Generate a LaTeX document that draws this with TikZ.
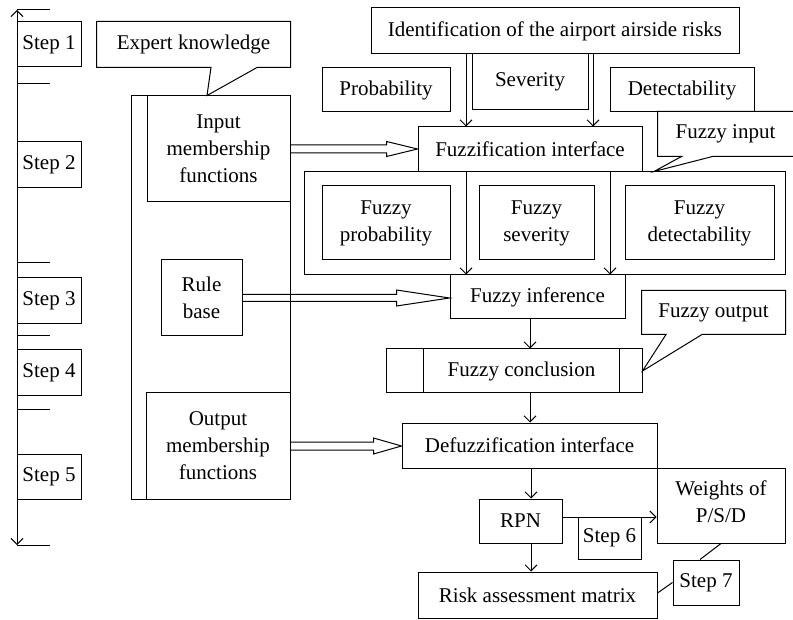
\documentclass[tikz,border=0pt]{standalone}
\usepackage{fontspec}
\setmainfont{Liberation Serif}
\usetikzlibrary{calc,arrows.meta}
\newcommand\dfont{\fontsize{21}{27}\selectfont}
\newcommand\cbox[7][]{\node[box,#1,minimum width={(#5-#3)*1pt},minimum height={(#6-#4)*1pt}] (#2) at ({(#3+#5)/2},{(#4+#6)/2}) {#7};}
\newcommand\hollow[5]{\draw let \p1=(#1), \p2=(#2) in
  (\x1,{\y1+#4pt}) -- ({\x2-#3pt},{\y1+#4pt}) -- ({\x2-#3pt},{\y1+#5pt}) -- (\x2,\y1)
  -- ({\x2-#3pt},{\y1-#5pt}) -- ({\x2-#3pt},{\y1-#4pt}) -- (\x1,{\y1-#4pt});}
\begin{document}
\begin{tikzpicture}[x=1pt,y=-1pt,line width=1pt,
  box/.style={draw,rectangle,inner sep=0pt,align=center,font=\dfont},
  arr/.style={-{Straight Barb[length=6pt,width=12pt]}},
  barr/.style={{Straight Barb[length=6pt,width=12pt]}-{Straight Barb[length=6pt,width=12pt]}}]
\useasboundingbox (0,0) rectangle (793,620);
% step bar
\coordinate (bt) at (17,10);
\coordinate (bb) at (17,545);
\draw[barr] (bt) -- (bb);
\foreach \yy in {10,84,263,336,410,545} \draw (17,\yy) -- (50,\yy);
\cbox{s1}{17}{22}{81}{67}{Step 1}
\cbox{s2}{17}{142}{81}{188}{Step 2}
\cbox{s3}{17}{278}{81}{324}{Step 3}
\cbox{s4}{17}{350}{81}{396}{Step 4}
\cbox{s5}{17}{454}{81}{499}{Step 5}
% left panel
\cbox{lpanel}{131}{96}{290}{499}{}
\cbox{inmf}{147}{96}{290}{202}{Input\\membership\\functions}
\cbox{rule}{161}{260}{242}{336}{Rule\\base}
\cbox{outmf}{146}{393}{290}{499}{Output\\membership\\functions}
\cbox[draw=none]{expert}{97}{22}{290}{67}{Expert knowledge}
\draw (expert.south west) -- (expert.north west) -- (expert.north east) -- (expert.south east)
  -- ($(expert.south)+(63.5,0)$) -- ($(inmf.north)+(-11.5,0)$) -- ($(expert.south)+(17.5,0)$) -- cycle;
% top
\cbox{ident}{371}{8}{739}{54}{Identification of the airport airside risks}
\cbox{prob}{322}{68}{450}{112}{Probability}
\cbox{sev}{472}{54}{588}{110}{Severity}
\cbox{det}{610}{68}{754}{112}{Detectability}
\cbox{fuzz}{418}{127}{642}{172}{Fuzzification interface}
\cbox{panel2}{304}{172}{785}{275}{}
\cbox{fprob}{322}{186}{450}{260}{Fuzzy\\probability}
\cbox{fsev}{479}{186}{594}{260}{Fuzzy\\severity}
\cbox{fdet}{625}{186}{774}{260}{Fuzzy\\detectability}
\cbox[draw=none]{fin}{658}{112}{793}{156}{Fuzzy input}
\draw (fin.north east) -- (fin.north west) -- (fin.south west) -- ($(fin.south west)+(24,0)$)
  -- ($(panel2.north)+(109.5,0)$) -- ($(fin.south west)+(55,0)$) -- (fin.south east);
\cbox{finf}{450}{275}{625}{319}{Fuzzy inference}
\cbox[draw=none]{fout}{642}{291}{785}{334}{Fuzzy output}
\cbox{fconc}{386}{349}{642}{393}{}
\node[font=\dfont,inner sep=0pt] (fconclbl) at ($(fconc)+(7.5,0)$) {Fuzzy conclusion};
\draw ($(fconc.north west)+(38,0)$) -- ($(fconc.south west)+(38,0)$);
\draw ($(fconc.north east)+(-23,0)$) -- ($(fconc.south east)+(-23,0)$);
\draw (fout.south west) -- (fout.north west) -- (fout.north east) -- (fout.south east)
  -- ($(fout.south)+(-11.5,0)$) -- (fconc.east) -- ($(fout.south)+(-47.5,0)$) -- cycle;
\cbox{defuzz}{402}{423}{657}{468}{Defuzzification interface}
\cbox{rpn}{479}{499}{562}{543}{RPN}
\cbox{wts}{657}{468}{785}{543}{}
\node[font=\dfont,inner sep=0pt,align=center] (wtslbl) at ($(wts)+(0,-4)$) {Weights of\\P/S/D};
\cbox{s6}{578}{517}{641}{559}{Step 6}
\cbox{risk}{418}{572}{657}{618}{Risk assessment matrix}
\cbox{s7}{673}{560}{739}{605}{Step 7}
% arrows
\draw[arr] ($(ident.south)+(-89,0)$) -- ($(fuzz.north)+(-64,0)$);
\draw[arr] ($(ident.south)+(38,0)$) -- ($(fuzz.north)+(63,0)$);
\draw[arr] ($(fuzz.south)+(-64,0)$) -- ($(finf.north)+(-71.5,0)$);
\draw[arr] ($(fuzz.south)+(80,0)$) -- ($(finf.north)+(72.5,0)$);
\draw[arr] ($(finf.south)+(-7.5,0)$) -- ($(fconc.north)+(16,0)$);
\draw[arr] ($(fconc.south)+(16,0)$) -- ($(defuzz.north)+(0.5,0)$);
\draw[arr] ($(defuzz.south)+(1.5,0)$) -- ($(rpn.north)+(10.5,0)$);
\draw[arr] ($(rpn.east)+(0,-4)$) -- ($(wts.west)+(0,11.5)$);
\draw[arr] ($(rpn.south)+(10.5,0)$) -- ($(risk.north)+(-6.5,0)$);
\draw (wts.south) -- ($(s7.north)+(-6,0)$);
\draw (s7.west) -- ($(risk.east)+(0,-2)$);
\hollow{inmf.east}{fuzz.west}{31}{4}{7.5}
\hollow{rule.east}{finf.west}{53}{3.5}{8}
\hollow{outmf.east}{defuzz.west}{28}{4}{8}
\end{tikzpicture}
\end{document}
